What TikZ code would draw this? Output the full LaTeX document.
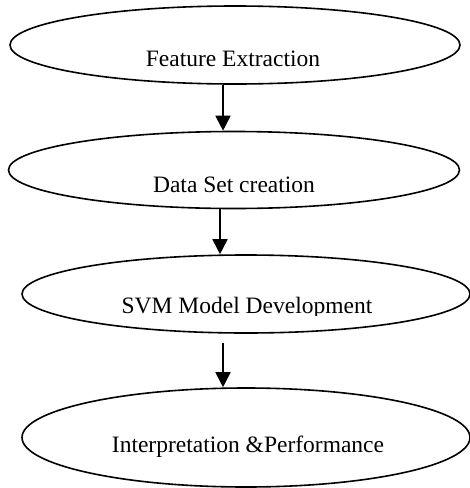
\documentclass[tikz,border=0pt]{standalone}
\usepackage{fontspec}
\setmainfont{Liberation Serif}
\usetikzlibrary{shapes.geometric,arrows.meta}
\begin{document}
\begin{tikzpicture}[x=1pt,y=1pt,
  stage/.style={draw=black,line width=1.6pt,ellipse,inner sep=0pt},
  label/.style={anchor=base,font=\fontsize{23.5}{28}\selectfont,inner sep=0pt},
  flow/.style={line width=1.8pt,-{Triangle[length=15pt,width=15pt]}}]
\useasboundingbox (0,0) rectangle (470,-488);
% process stages
\node[stage,minimum width=450,minimum height=78] (e1) at (235,-45) {};
\node[stage,minimum width=451,minimum height=77] (e2) at (234,-170) {};
\node[stage,minimum width=448,minimum height=78] (e3) at (246,-294) {};
\node[stage,minimum width=448,minimum height=99] (e4) at (246,-437.5) {};
% stage captions
\node[label] (t1) at (233,-66) {Feature Extraction};
\node[label] (t2) at (234,-192) {Data Set creation};
\begin{scope}
  \clip (0,-250) rectangle (470,-315);
  \node[label] (t3) at (247,-313) {SVM Model Development};
\end{scope}
\node[label] (t4) at (248,-452) {Interpretation \&Performance};
% connectors
\draw[flow] ([xshift=-12pt]e1.south) -- ([xshift=-12pt]e1.south |- e2.north);
\draw[flow] ([xshift=-14pt]e2.south) -- ([xshift=-14pt]e2.south |- e3.north);
\draw[flow] ([xshift=-23pt,yshift=-9pt]e3.south) -- ([xshift=-23pt]e3.south |- e4.north);
\end{tikzpicture}
\end{document}
